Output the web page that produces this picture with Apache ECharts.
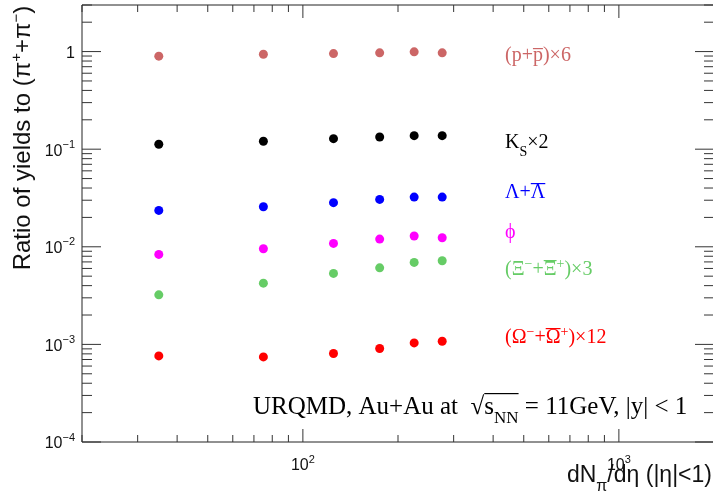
<!DOCTYPE html>
<html>
<head>
<meta charset="utf-8">
<script src="https://cdn.jsdelivr.net/npm/echarts@6/dist/echarts.min.js"></script>
<style>
  html, body { margin: 0; padding: 0; background: #fff; }
  #chart { width: 713px; height: 494px; }
</style>
</head>
<body>
<div id="chart"></div>
<script>
// Charged-particle multiplicity bins (dN/deta, |eta|<1)
const multiplicity = [35, 75, 125, 175, 225, 276];

// Particle yields relative to (pi+ + pi-), scaled as in the labels
const protonRatio = [0.897, 0.940, 0.954, 0.970, 0.993, 0.970];
const kaonRatio = [0.1123, 0.1205, 0.1282, 0.1334, 0.1376, 0.1376];
const lambdaRatio = [0.0236, 0.0257, 0.0283, 0.0306, 0.0323, 0.0323];
const phiRatio = [0.00836, 0.00954, 0.01083, 0.01199, 0.01288, 0.01237];
const xiRatio = [0.00322, 0.00424, 0.00534, 0.00609, 0.00692, 0.00719];
const omegaRatio = [0.000762, 0.000744, 0.000807, 0.000908, 0.001036, 0.001078];

// Axis ranges and the decades used for tick marks
const xRange = [20, 2000];
const yRange = [1e-4, 3];
const xDecades = [10, 100, 1000];
const yDecades = [1e-5, 1e-4, 1e-3, 1e-2, 1e-1, 1];

const SANS = 'Liberation Sans';
const SERIF = 'Liberation Serif';

const COLORS = {
  proton: '#cc6666', kaon: '#000000', lambda: '#0000ff',
  phi: '#ff00ff', xi: '#66cc66', omega: '#ff0000'
};

// Log-axis tick positions: decade (major) plus 2..9 multiples (minor), kept inside the range
function logTicks(decades, range) {
  const ticks = [];
  decades.forEach(d => {
    for (let m = 1; m <= 9; m++) {
      const v = d * m;
      if (v >= range[0] * 0.999 && v <= range[1] * 1.001) ticks.push([v, m === 1 ? 1 : 0]);
    }
  });
  return ticks;
}
const xTicks = logTicks(xDecades, xRange);
const yTicks = logTicks(yDecades, yRange);

function isDecade(v) {
  const e = Math.log10(v);
  return Math.abs(e - Math.round(e)) < 1e-6;
}
function decadeLabel(v) {
  const e = Math.round(Math.log10(v));
  if (e === 0) return '{b|1}';
  return '{b|10}{s|' + String(e).replace('-', '\u2212') + '}';
}

const labelRich = {
  b: { fontFamily: SANS, fontSize: 16, color: '#111', lineHeight: 20, verticalAlign: 'bottom' },
  s: { fontFamily: SANS, fontSize: 11, color: '#111', lineHeight: 11, verticalAlign: 'top' }
};

// Frame tick marks as thin rect symbols anchored on the frame edges, pointing inward
function tickSeries(items) {
  return {
    type: 'scatter',
    symbol: 'rect',
    data: items,
    itemStyle: { color: '#333', opacity: 1 },
    silent: true,
    clip: false,
    emphasis: { disabled: true },
    z: 4
  };
}
const Y_MAJOR = 19, Y_MINOR = 10, X_MAJOR = 13, X_MINOR = 7;
const leftTicks = yTicks.map(t => {
  const len = t[1] ? Y_MAJOR : Y_MINOR;
  return { value: [xRange[0], t[0]], symbolSize: [len, 1], symbolOffset: [len / 2, 0] };
});
const rightTicks = yTicks.map(t => {
  const len = t[1] ? Y_MAJOR : Y_MINOR;
  return { value: [xRange[1], t[0]], symbolSize: [len, 1], symbolOffset: [-len / 2, 0] };
});
const bottomTicks = xTicks.map(t => {
  const len = t[1] ? X_MAJOR : X_MINOR;
  return { value: [t[0], yRange[0]], symbolSize: [1, len], symbolOffset: [0, -len / 2] };
});
const topTicks = xTicks.map(t => {
  const len = t[1] ? X_MAJOR : X_MINOR;
  return { value: [t[0], yRange[1]], symbolSize: [1, len], symbolOffset: [0, len / 2] };
});

function scatter(name, values, color) {
  return {
    name: name,
    type: 'scatter',
    data: multiplicity.map((x, i) => [x, values[i]]),
    symbol: 'circle',
    symbolSize: 9,
    itemStyle: { color: color, opacity: 1 },
    emphasis: { disabled: true },
    z: 3
  };
}

// Text with sub/superscripts; parts marked with a bar get an overline
const measureCtx = document.createElement('canvas').getContext('2d');
function textWidth(str, size, family) {
  measureCtx.font = size + 'px "' + family + '"';
  return measureCtx.measureText(str).width;
}
function richText(parts, opt) {
  const size = opt.size, small = Math.round(size * 0.68);
  const family = opt.family, color = opt.color;
  let text = '', w = 0;
  const bars = [];
  parts.forEach(p => {
    const fs = p[1] === 't' ? size : small;
    const pw = textWidth(p[0], fs, family);
    if (p[2]) bars.push([w, w + pw]);
    w += pw;
    text += '{' + p[1] + '|' + p[0] + '}';
  });
  const x0 = opt.align === 'right' ? opt.x - w : opt.x;
  const rich = {
    t: { fontFamily: family, fontSize: size, fill: color, lineHeight: size, verticalAlign: 'bottom' },
    sub: { fontFamily: family, fontSize: small, fill: color, lineHeight: small, verticalAlign: 'bottom', padding: [0, 0, -Math.round(size * 0.3), 0] },
    sup: { fontFamily: family, fontSize: small, fill: color, lineHeight: small, verticalAlign: 'top', padding: [-Math.round(size * 0.15), 0, 0, 0] }
  };
  const els = [{
    type: 'text', x: x0, y: opt.y, silent: true,
    style: { text: text, rich: rich, align: 'left', verticalAlign: 'middle' }
  }];
  const by = Math.round(opt.y - size * (opt.barRise || 0.52));
  bars.forEach(b => {
    els.push({
      type: 'rect', silent: true,
      shape: { x: x0 + b[0], y: by, width: b[1] - b[0], height: 1.2 },
      style: { fill: color }
    });
  });
  return els;
}

const tagOpt = (color, y) => ({ size: 20, family: SERIF, color: color, x: 505, y: y });

const graphics = [].concat(
  richText([['(p+', 't'], ['p', 't', true], [')\u00d76', 't']], Object.assign(tagOpt(COLORS.proton, 56), { barRise: 0.4 })),
  richText([['K', 't'], ['S', 'sub'], ['\u00d72', 't']], tagOpt(COLORS.kaon, 143)),
  richText([['\u039b+', 't'], ['\u039b', 't', true]], tagOpt(COLORS.lambda, 193)),
  richText([['\u03d5', 't']], tagOpt(COLORS.phi, 233)),
  richText([['(\u039e', 't'], ['\u2212', 'sup'], ['+', 't'], ['\u039e', 't', true], ['+', 'sup'], [')\u00d73', 't']], tagOpt(COLORS.xi, 270)),
  richText([['(\u03a9', 't'], ['\u2212', 'sup'], ['+', 't'], ['\u03a9', 't', true], ['+', 'sup'], [')\u00d712', 't']], tagOpt(COLORS.omega, 338)),
  richText([['URQMD, Au+Au at  \u221a', 't'], ['s', 't', true], ['NN', 'sub', true], [' = 11GeV, |y| < 1', 't']],
    { size: 25, family: SERIF, color: '#000', x: 253, y: 407, barRise: 0.56 }),
  richText([['dN', 't'], ['\u03c0', 'sub'], ['/d\u03b7 (|\u03b7|<1)', 't']],
    { size: 23, family: SANS, color: '#111', x: 712, y: 476, align: 'right' }),
  [{
    type: 'text', x: 22, y: 138, rotation: Math.PI / 2, silent: true,
    style: {
      text: '{t|Ratio of yields to (\u03c0}{s|+}{t|+\u03c0}{s|\u2212}{t|)}',
      rich: {
        t: { fontFamily: SANS, fontSize: 24, fill: '#111', lineHeight: 26, verticalAlign: 'bottom' },
        s: { fontFamily: SANS, fontSize: 15, fill: '#111', lineHeight: 15, verticalAlign: 'top' }
      },
      align: 'center', verticalAlign: 'middle'
    }
  }]
);

const chart = echarts.init(document.getElementById('chart'), null, { renderer: 'canvas' });

chart.setOption({
  animation: false,
  backgroundColor: '#ffffff',
  grid: {
    left: 82, right: -1, top: 5, bottom: 52,
    outerBoundsMode: 'none', containLabel: false,
    show: true, borderColor: '#222', borderWidth: 1, backgroundColor: 'transparent'
  },
  xAxis: {
    type: 'log', logBase: 10, min: xRange[0], max: xRange[1],
    axisLine: { show: false },
    axisTick: { show: false },
    splitLine: { show: false },
    minorTick: { show: false },
    axisLabel: {
      margin: 12,
      formatter: v => (isDecade(v) ? decadeLabel(v) : ''),
      rich: labelRich
    }
  },
  yAxis: {
    type: 'log', logBase: 10, min: yRange[0], max: yRange[1],
    axisLine: { show: false },
    axisTick: { show: false },
    splitLine: { show: false },
    minorTick: { show: false },
    axisLabel: {
      margin: 7,
      formatter: v => (isDecade(v) ? decadeLabel(v) : ''),
      rich: labelRich
    }
  },
  series: [
    tickSeries(leftTicks),
    tickSeries(rightTicks),
    tickSeries(bottomTicks),
    tickSeries(topTicks),
    scatter('(p+p\u0304)\u00d76', protonRatio, COLORS.proton),
    scatter('K\u209b\u00d72', kaonRatio, COLORS.kaon),
    scatter('\u039b+\u039b\u0304', lambdaRatio, COLORS.lambda),
    scatter('\u03d5', phiRatio, COLORS.phi),
    scatter('(\u039e+\u039e\u0304)\u00d73', xiRatio, COLORS.xi),
    scatter('(\u03a9+\u03a9\u0304)\u00d712', omegaRatio, COLORS.omega)
  ],
  graphic: graphics
});
</script>
</body>
</html>
